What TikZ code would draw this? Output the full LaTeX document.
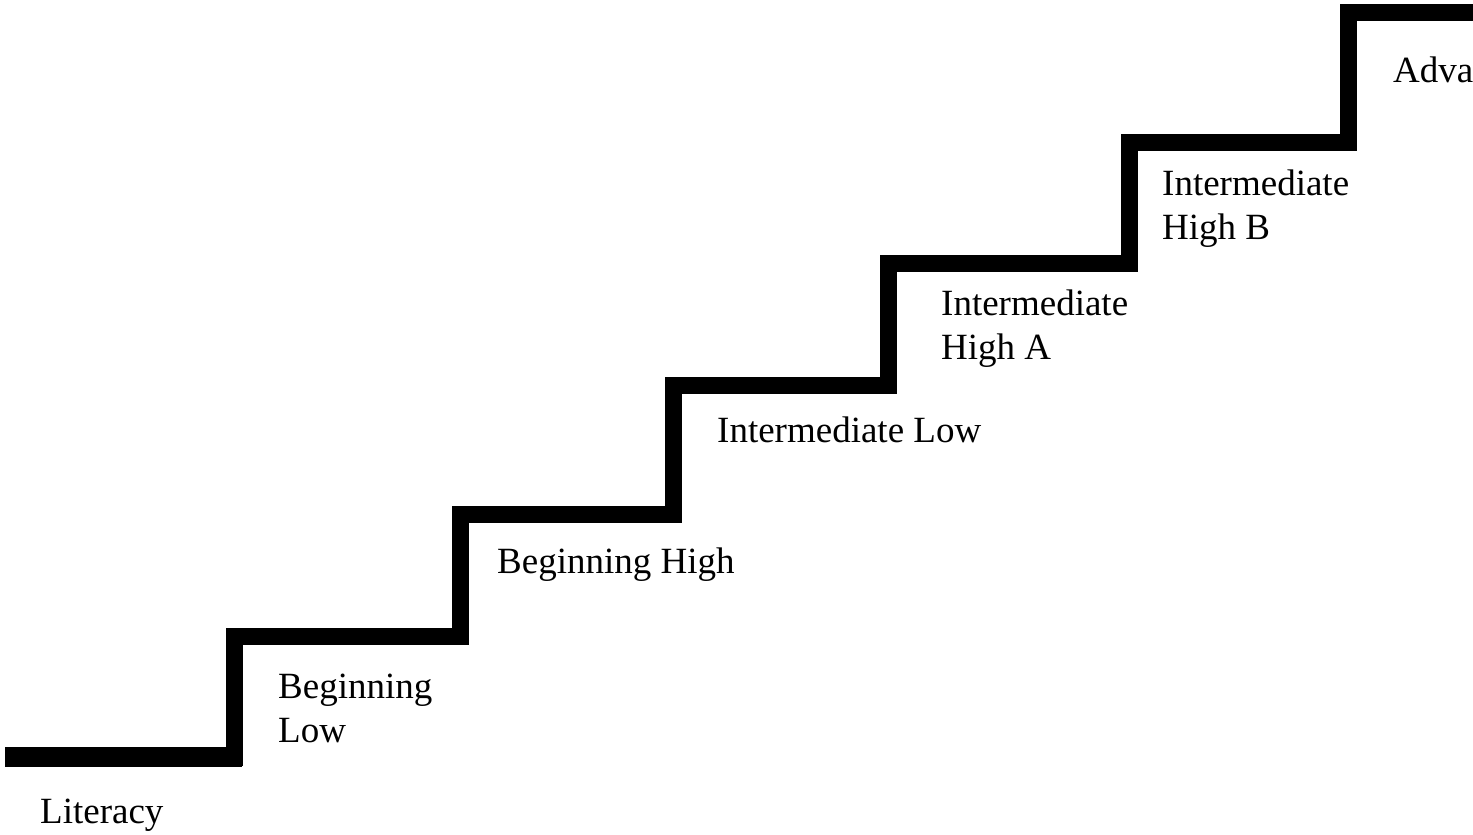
\documentclass[tikz,border=0pt]{standalone}
\usepackage{fontspec}
\setmainfont{Liberation Serif}
\begin{document}
\begin{tikzpicture}[x=1pt,y=-1pt,
  stair/.style={line width=17pt, line join=miter, line cap=butt},
  steptext/.style={anchor=base west, inner sep=0pt, align=left,
    font=\fontsize{37}{44}\selectfont}]
\useasboundingbox (0,0) rectangle (1473,835);
% the staircase
\draw[stair] (5,757) -- (234.5,757) -- (234.5,636) -- (460.5,636)
  -- (460.5,514) -- (673,514) -- (673,385) -- (888,385)
  -- (888,263) -- (1129,263) -- (1129,142) -- (1348,142)
  -- (1348,12) -- (1473,12);
% the bottom tread is a little heavier
\draw[line width=20pt] (5,757) -- (241.5,757);
% level names, one under each tread (base = last line's baseline)
\node[steptext] (lit) at (40,823) {Literacy};
\node[steptext] (bl)  at (278,742) {Beginning\\Low};
\node[steptext] (bh)  at (497,573) {Beginning High};
\node[steptext] (il)  at (717,442) {Intermediate Low};
\node[steptext] (iha) at (941,359) {Intermediate\\High A};
\node[steptext] (ihb) at (1162,239) {Intermediate\\High B};
\node[steptext] (adv) at (1393,82) {Adva};
\end{tikzpicture}
\end{document}
